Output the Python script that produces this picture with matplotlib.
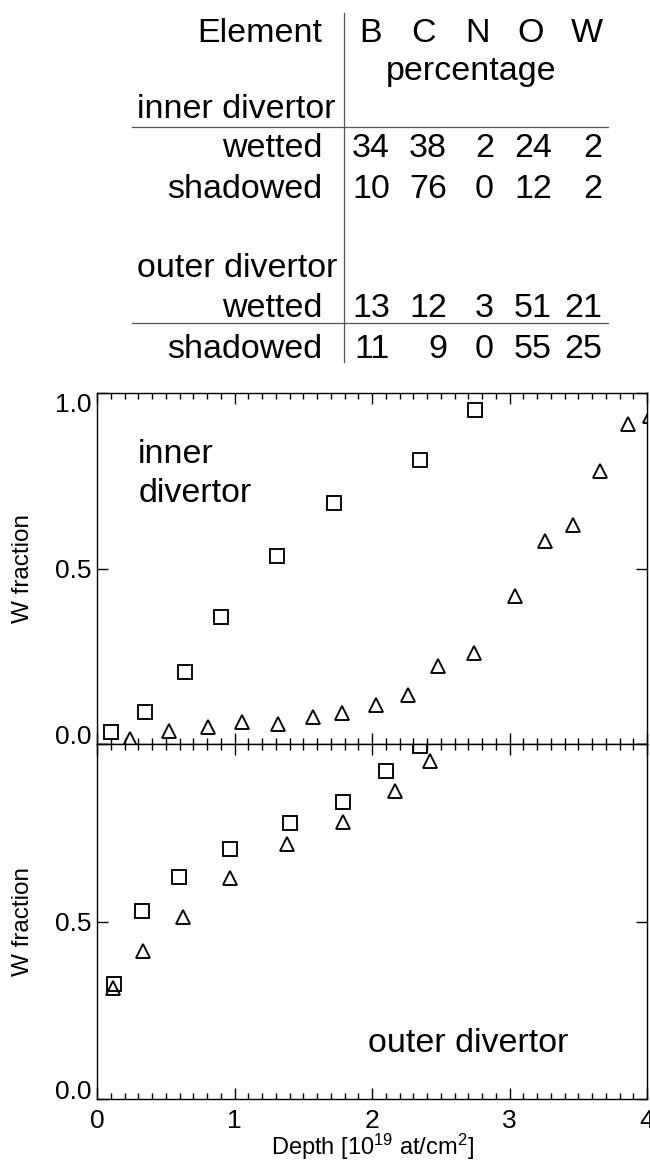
import matplotlib.pyplot as plt
from matplotlib.ticker import MultipleLocator
from matplotlib.lines import Line2D

# ================================
# Data
# ================================

elements = ['B', 'C', 'N', 'O', 'W']
inner_wetted = [34, 38, 2, 24, 2]
inner_shadowed = [10, 76, 0, 12, 2]
outer_wetted = [13, 12, 3, 51, 21]
outer_shadowed = [11, 9, 0, 55, 25]

# inner divertor depth profiles (depth in 1e19 at/cm2, W fraction)
inner_sq_depth = [0.10, 0.35, 0.64, 0.90, 1.31, 1.72, 2.35, 2.75]
inner_sq_w = [0.034, 0.090, 0.205, 0.363, 0.535, 0.688, 0.810, 0.952]
inner_tri_depth = [0.24, 0.52, 0.81, 1.055, 1.315, 1.57, 1.785, 2.03, 2.26,
                   2.48, 2.74, 3.04, 3.26, 3.46, 3.66, 3.86, 4.02]
inner_tri_w = [0.014, 0.037, 0.048, 0.064, 0.057, 0.077, 0.088, 0.112, 0.140,
               0.221, 0.258, 0.423, 0.579, 0.625, 0.779, 0.913, 0.935]

# outer divertor depth profiles
outer_sq_depth = [0.124, 0.326, 0.595, 0.97, 1.40, 1.79, 2.10, 2.35]
outer_sq_w = [0.325, 0.529, 0.625, 0.705, 0.778, 0.838, 0.923, 0.993]
outer_tri_depth = [0.115, 0.338, 0.625, 0.97, 1.38, 1.79, 2.17, 2.42]
outer_tri_w = [0.314, 0.416, 0.512, 0.623, 0.717, 0.781, 0.868, 0.953]

# ================================
# Layout helpers (pixel -> figure fraction)
# ================================

W_PX, H_PX = 650, 1164


def fx(px):
    return px / W_PX


def fy(py):
    return 1 - py / H_PX


plt.rcParams['font.family'] = ['Liberation Sans', 'DejaVu Sans']
plt.rcParams['mathtext.default'] = 'regular'

fig = plt.figure(figsize=(6.5, 11.64), dpi=100)

# ================================
# Composition table
# ================================

big = 24.5
line_col = '#555555'
label_right = 322
label_left = 137
head_x = [371, 424, 477, 531, 587]
num_right = [390, 447, 494, 552, 602]

fig.text(fx(label_right), fy(42), 'Element', fontsize=big, ha='right', va='baseline')
for name, x in zip(elements, head_x):
    fig.text(fx(x), fy(42), name, fontsize=big, ha='center', va='baseline')
fig.text(fx(471), fy(80), 'percentage', fontsize=big, ha='center', va='baseline')

rows = [
    ('inner divertor', None, 118),
    ('wetted', inner_wetted, 157),
    ('shadowed', inner_shadowed, 198),
    ('outer divertor', None, 277),
    ('wetted', outer_wetted, 317),
    ('shadowed', outer_shadowed, 358),
]
for label, vals, y in rows:
    if vals is None:
        fig.text(fx(label_left), fy(y), label, fontsize=big, ha='left', va='baseline')
        continue
    fig.text(fx(label_right), fy(y), label, fontsize=big, ha='right', va='baseline')
    for v, x in zip(vals, num_right):
        fig.text(fx(x), fy(y), str(v), fontsize=big, ha='right', va='baseline')

fig.add_artist(Line2D([fx(344), fx(344)], [fy(13), fy(362)], color=line_col, lw=0.9))
for y in (127, 323):
    fig.add_artist(Line2D([fx(132), fx(608)], [fy(y), fy(y)], color=line_col, lw=0.9))

# ================================
# Depth profiles
# ================================

ax_in = fig.add_axes([fx(97), fy(744), 550 / W_PX, (744 - 393) / H_PX])
ax_out = fig.add_axes([fx(97), fy(1099), 550 / W_PX, (1099 - 744) / H_PX])

mk = dict(ls='none', mfc='none', mec='black', mew=1.35)
ax_in.plot(inner_sq_depth, inner_sq_w, marker='s', ms=9.8, **mk)
ax_in.plot(inner_tri_depth, inner_tri_w, marker='^', ms=10.3, **mk)
ax_out.plot(outer_sq_depth, outer_sq_w, marker='s', ms=9.8, **mk)
ax_out.plot(outer_tri_depth, outer_tri_w, marker='^', ms=10.3, **mk)

for ax in (ax_in, ax_out):
    ax.set_xlim(0, 4)
    ax.set_ylim(0, 1)
    ax.xaxis.set_major_locator(MultipleLocator(1))
    ax.xaxis.set_minor_locator(MultipleLocator(0.1))
    ax.set_yticks([0, 0.5, 1.0])
    ax.tick_params(which='both', direction='in', top=True, right=True, width=1)
    ax.tick_params(which='major', length=8, labelsize=19)
    ax.tick_params(axis='y', which='major', pad=4)
    ax.tick_params(axis='x', which='major', pad=7)
    ax.tick_params(which='minor', length=4)
    for sp in ax.spines.values():
        sp.set_linewidth(1.0)
    ax.set_ylabel('W fraction', fontsize=17.5)
    ax.yaxis.set_label_coords(-0.115, 0.5)

ax_in.tick_params(axis='x', labelbottom=False)
ax_in.set_yticklabels(['0.0', '0.5', '1.0'])
ax_out.set_yticklabels(['0.0', '0.5', ''])
ax_in.get_yticklabels()[0].set_va('baseline')
ax_in.get_yticklabels()[2].set_va('top')
ax_out.get_yticklabels()[0].set_va('baseline')

ax_in.text(0.30, 0.80, 'inner', fontsize=big, ha='left', va='baseline')
ax_in.text(0.30, 0.69, 'divertor', fontsize=big, ha='left', va='baseline')
ax_out.text(1.97, 0.132, 'outer divertor', fontsize=big, ha='left', va='baseline')

ax_out.set_xlabel('Depth [10$^{19}$ at/cm$^{2}$]', fontsize=17, labelpad=-1)

fig.savefig('out.png', dpi=100)
